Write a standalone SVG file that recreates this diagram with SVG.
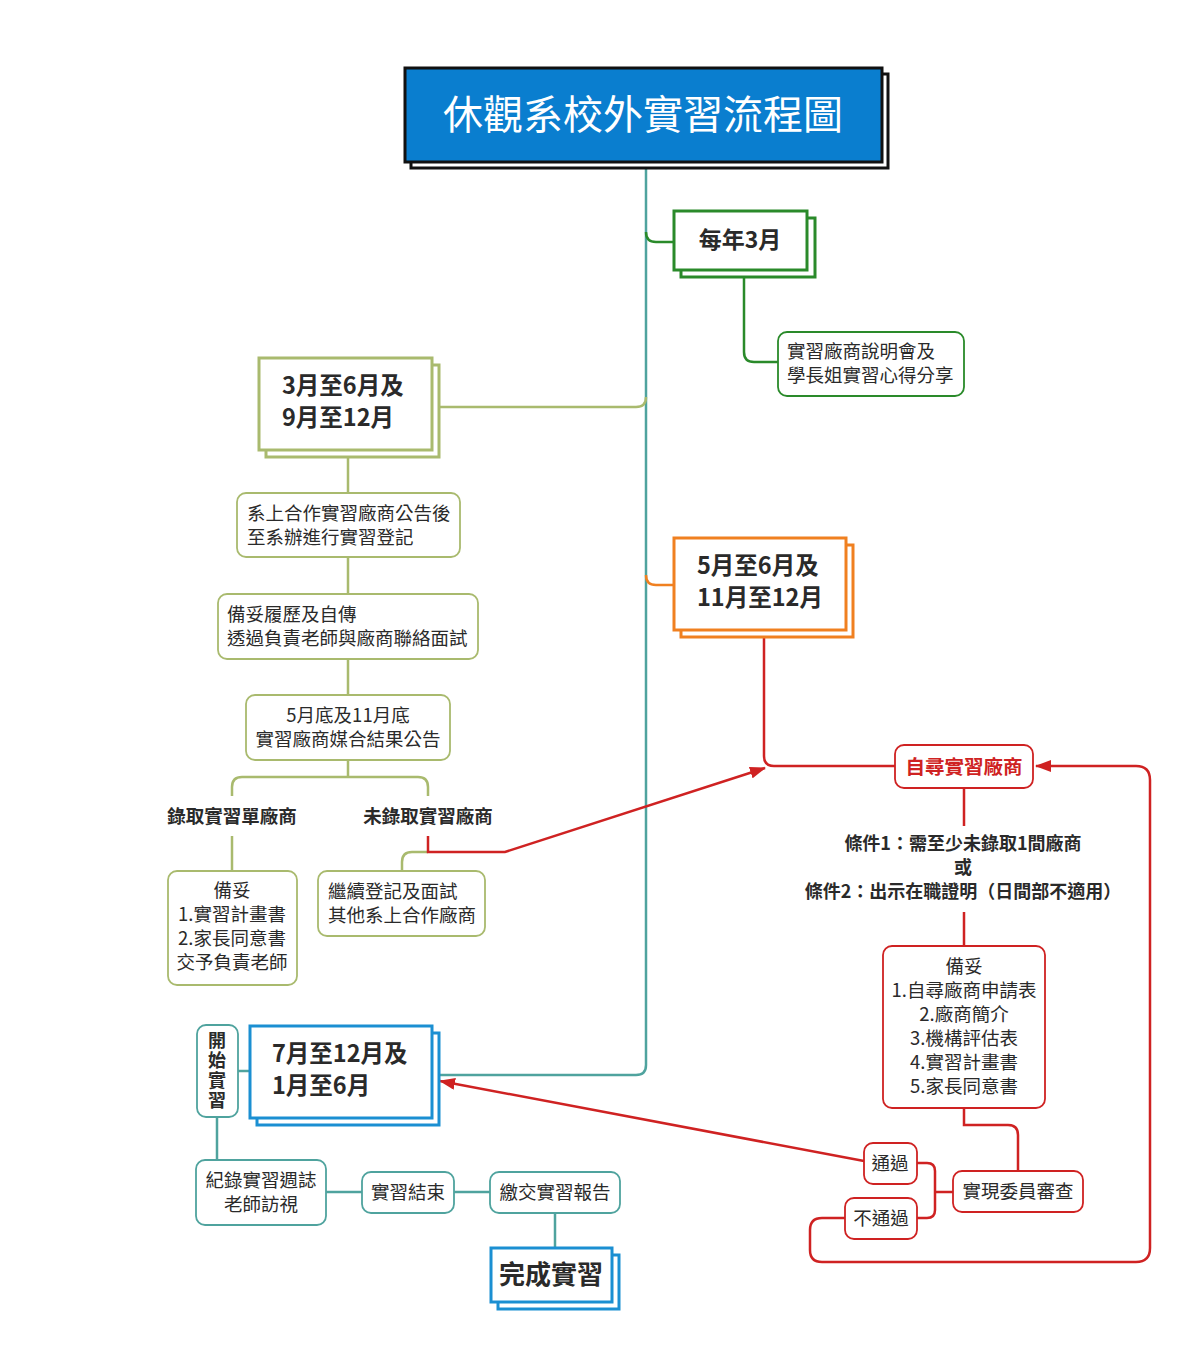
<svg xmlns="http://www.w3.org/2000/svg" width="1194" height="1372" viewBox="0 0 1194 1372">
<defs>
<style>
text{font-family:"Noto Sans CJK TC","Noto Sans CJK SC",sans-serif;fill:#2a2a2a}
.t{font-size:18.5px}
.b{font-weight:bold}
.c{text-anchor:middle}
.box{fill:#fff;stroke-width:1.8}
.sq{fill:#fff;stroke-width:3}
.teal{stroke:#4fa39e}
.olive{stroke:#a9ba6e}
.green{stroke:#2a8a2a}
.orange{stroke:#f08020}
.red{stroke:#cf2222}
.blue{stroke:#1b8fd2}
.ln{fill:none;stroke-width:2.5}
</style>
<marker id="arr" viewBox="0 0 16 12" refX="15" refY="6" markerWidth="16" markerHeight="12" markerUnits="userSpaceOnUse" orient="auto">
<path d="M0,0 L16,6 L0,12 z" fill="#cf2222"/>
</marker>
</defs>
<rect width="1194" height="1372" fill="#fff"/>

<g id="connectors">
<path class="ln teal" d="M646,168 V1065 Q646,1075 636,1075 H439"/>
<path class="ln green" d="M646,232 Q646,242 656,242 H674"/>
<path class="ln green" d="M744,277 V352 Q744,362 754,362 H778"/>
<path class="ln olive" d="M439,407 H636 Q646,407 646,397"/>
<path class="ln orange" d="M646,575 Q646,585 656,585 H674"/>
<path class="ln olive" d="M348,457 V493 M348,557 V594 M348,659 V695 M348,760 V777"/>
<path class="ln olive" d="M232,796 V787 Q232,777 242,777 H418 Q428,777 428,787 V796"/>
<path class="ln olive" d="M232,836 V871"/>
<path class="ln olive" d="M428,852 H412 Q402,852 402,862 V871"/>
<path class="ln red" d="M428,836 V852 H505 L765,768" marker-end="url(#arr)"/>
<path class="ln red" d="M764,637 V756 Q764,766 774,766 H895"/>
<path class="ln red" d="M964,788 V826 M964,912 V946"/>
<path class="ln red" d="M964,1108 V1125 H1008 Q1018,1125 1018,1135 V1171"/>
<path class="ln red" d="M953,1192 H935 M917,1163 H927 Q935,1163 935,1171 V1210 Q935,1218 927,1218 H917"/>
<path class="ln red" d="M864,1161 L440,1081" marker-end="url(#arr)"/>
<path class="ln red" d="M845,1218 H822 Q810,1218 810,1230 V1250 Q810,1262 822,1262 H1136 Q1150,1262 1150,1248 V780 Q1150,766 1136,766 H1036" marker-end="url(#arr)"/>
<path class="ln teal" d="M238,1071 H250 M217,1117 V1160 M326,1192 H362 M454,1192 H490 M555,1213 V1248"/>
</g>

<g id="title">
<rect x="411" y="74" width="477" height="94" fill="#fff" stroke="#111" stroke-width="3"/>
<rect x="405" y="68" width="477" height="94" fill="#0a7ecf" stroke="#111" stroke-width="3"/>
<text x="643" y="129" class="c" style="font-size:40px;fill:#fff">休觀系校外實習流程圖</text>
</g>

<g id="n_mar">
<rect x="681" y="218" width="134" height="59" class="sq green"/>
<rect x="674" y="211" width="133" height="59" class="sq green"/>
<text x="740" y="248" class="c b" style="font-size:23px">每年3月</text>
</g>
<g id="n_brief">
<rect x="778" y="332" width="186" height="64" rx="9" class="box green"/>
<text x="787" y="358" class="t">實習廠商說明會及</text>
<text x="787" y="382" class="t">學長姐實習心得分享</text>
</g>

<g id="n_p1">
<rect x="266" y="365" width="173" height="92" class="sq olive"/>
<rect x="259" y="358" width="173" height="92" class="sq olive"/>
<text x="282" y="394" class="b" style="font-size:23.5px">3月至6月及</text>
<text x="282" y="426" class="b" style="font-size:23.5px">9月至12月</text>
</g>
<g id="n_reg">
<rect x="237" y="493" width="223" height="64" rx="9" class="box olive"/>
<text x="247" y="520" class="t">系上合作實習廠商公告後</text>
<text x="247" y="544" class="t">至系辦進行實習登記</text>
</g>
<g id="n_cv">
<rect x="218" y="594" width="260" height="65" rx="9" class="box olive"/>
<text x="227" y="621" class="t">備妥履歷及自傳</text>
<text x="227" y="645" class="t">透過負責老師與廠商聯絡面試</text>
</g>
<g id="n_match">
<rect x="246" y="695" width="204" height="65" rx="9" class="box olive"/>
<text x="348" y="722" class="t c">5月底及11月底</text>
<text x="348" y="746" class="t c">實習廠商媒合結果公告</text>
</g>
<g id="n_yes">
<text x="232" y="823" class="c b" style="font-size:18.5px">錄取實習單廠商</text>
</g>
<g id="n_no">
<text x="428" y="823" class="c b" style="font-size:18.5px">未錄取實習廠商</text>
</g>
<g id="n_prep1">
<rect x="168" y="871" width="129" height="114" rx="9" class="box olive"/>
<text x="232" y="897" class="t c">備妥</text>
<text x="232" y="921" class="t c">1.實習計畫書</text>
<text x="232" y="945" class="t c">2.家長同意書</text>
<text x="232" y="969" class="t c">交予負責老師</text>
</g>
<g id="n_cont">
<rect x="318" y="871" width="167" height="65" rx="9" class="box olive"/>
<text x="328" y="898" class="t">繼續登記及面試</text>
<text x="328" y="922" class="t">其他系上合作廠商</text>
</g>

<g id="n_p2">
<rect x="681" y="545" width="172" height="92" class="sq orange"/>
<rect x="674" y="538" width="172" height="92" class="sq orange"/>
<text x="697" y="574" class="b" style="font-size:23.5px">5月至6月及</text>
<text x="697" y="606" class="b" style="font-size:23.5px">11月至12月</text>
</g>
<g id="n_self">
<rect x="895" y="745" width="138" height="43" rx="9" class="box red"/>
<text x="964" y="774" class="c b" style="font-size:19.5px;fill:#cf2222">自尋實習廠商</text>
</g>
<g id="n_cond">
<text x="963" y="850" class="c b" style="font-size:18px">條件1：需至少未錄取1間廠商</text>
<text x="963" y="874" class="c b" style="font-size:18px">或</text>
<text x="963" y="898" class="c b" style="font-size:18px">條件2：出示在職證明（日間部不適用）</text>
</g>
<g id="n_prep2">
<rect x="883" y="946" width="162" height="162" rx="9" class="box red"/>
<text x="964" y="973" class="t c">備妥</text>
<text x="964" y="997" class="t c">1.自尋廠商申請表</text>
<text x="964" y="1021" class="t c">2.廠商簡介</text>
<text x="964" y="1045" class="t c">3.機構評估表</text>
<text x="964" y="1069" class="t c">4.實習計畫書</text>
<text x="964" y="1093" class="t c">5.家長同意書</text>
</g>
<g id="n_review">
<rect x="953" y="1171" width="130" height="41" rx="9" class="box red"/>
<text x="1018" y="1198" class="t c">實現委員審查</text>
</g>
<g id="n_pass">
<rect x="864" y="1143" width="53" height="41" rx="9" class="box red"/>
<text x="890" y="1170" class="t c">通過</text>
</g>
<g id="n_fail">
<rect x="845" y="1198" width="72" height="41" rx="9" class="box red"/>
<text x="881" y="1225" class="t c">不通過</text>
</g>

<g id="n_p3">
<rect x="257" y="1033" width="182" height="92" class="sq blue"/>
<rect x="250" y="1026" width="182" height="92" class="sq blue"/>
<text x="272" y="1062" class="b" style="font-size:23.5px">7月至12月及</text>
<text x="272" y="1094" class="b" style="font-size:23.5px">1月至6月</text>
</g>
<g id="n_start">
<rect x="197" y="1025" width="41" height="92" rx="9" class="box teal"/>
<text x="217" y="1071" class="c b" style="font-size:18px;writing-mode:vertical-rl;letter-spacing:2px">開始實習</text>
</g>
<g id="n_log">
<rect x="196" y="1160" width="130" height="65" rx="9" class="box teal"/>
<text x="261" y="1187" class="t c">紀錄實習週誌</text>
<text x="261" y="1211" class="t c">老師訪視</text>
</g>
<g id="n_end">
<rect x="362" y="1172" width="92" height="41" rx="9" class="box teal"/>
<text x="408" y="1199" class="t c">實習結束</text>
</g>
<g id="n_report">
<rect x="490" y="1172" width="130" height="41" rx="9" class="box teal"/>
<text x="555" y="1199" class="t c">繳交實習報告</text>
</g>
<g id="n_done">
<rect x="498" y="1255" width="121" height="54" class="sq blue"/>
<rect x="491" y="1248" width="121" height="54" class="sq blue"/>
<text x="551" y="1284" class="c b" style="font-size:26px">完成實習</text>
</g>
</svg>
